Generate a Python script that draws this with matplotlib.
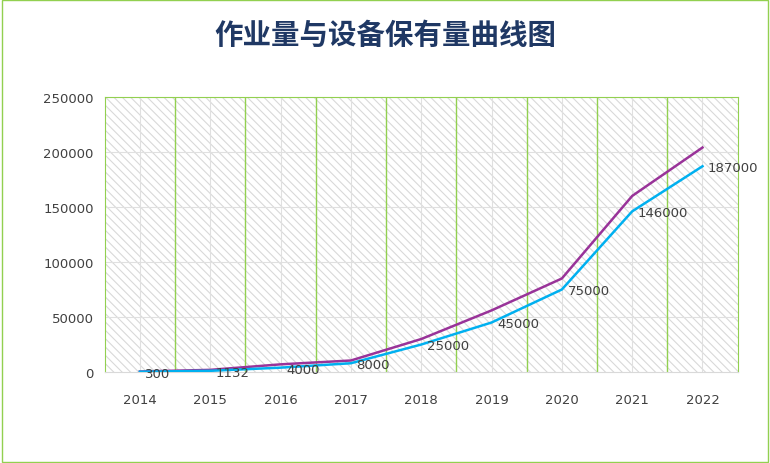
import matplotlib
matplotlib.use("Agg")
import matplotlib.pyplot as plt
from matplotlib.patches import Rectangle

years = ["2014","2015","2016","2017","2018","2019","2020","2021","2022"]
workload = [300,1132,4000,8000,25000,45000,75000,146000,187000]
equipment = [500,2000,7000,10500,30000,56000,85000,160000,204000]
title = "作业量与设备保有量曲线图"

plt.rcParams["hatch.color"] = "#d9d9d9"
plt.rcParams["hatch.linewidth"] = 0.8
fig = plt.figure(figsize=(7.7,4.64), dpi=100)
fig.patches.append(Rectangle((0.002,0.003),0.996,0.994, transform=fig.transFigure,
                             fill=False, edgecolor="#92d050", linewidth=1))
ax = fig.add_axes([0.136,0.196,0.822,0.593])
x = list(range(len(years)))
ax.set_xlim(-0.5, len(years)-0.5)
ax.set_ylim(0, 250000)
ax.add_patch(Rectangle((-0.5,0), len(years), 250000, facecolor="white",
                       hatch="\\\\\\\\", edgecolor="#d9d9d9", linewidth=0, zorder=0))
ax.set_yticks(range(0,250001,50000))
ax.set_xticks(x)
ax.set_xticklabels(years)
for yv in range(50000,250001,50000):
    ax.axhline(yv, color="#e0e0e0", lw=0.8, zorder=1)
for xv in x:
    ax.axvline(xv, color="#e0e0e0", lw=0.8, zorder=1)
for xv in range(len(years)-1):
    ax.axvline(xv+0.5, color="#92d050", lw=1, zorder=1)
ax.spines["top"].set_color("#92d050")
ax.spines["left"].set_color("#92d050")
ax.spines["right"].set_color("#92d050")
ax.spines["bottom"].set_color("#d9d9d9")
ax.tick_params(length=0, labelsize=9.5, colors="#404040")
ax.tick_params(axis="x", pad=15)
ax.tick_params(axis="y", pad=8)
ax.plot(x, equipment, color="#993399", lw=1.8, zorder=3)
ax.plot(x, workload, color="#00b0f0", lw=1.8, zorder=3)
for xi, v in zip(x, workload):
    ax.annotate(str(v), (xi, v), xytext=(4,-1), textcoords="offset points",
                ha="left", va="center", fontsize=9.5, color="#404040", zorder=4)
fig.text(0.5,0.922,title, ha="center", va="center", fontsize=20.5, fontweight="bold",
         color="#1f3864", family="Noto Sans CJK SC")
fig.savefig("out.png")
